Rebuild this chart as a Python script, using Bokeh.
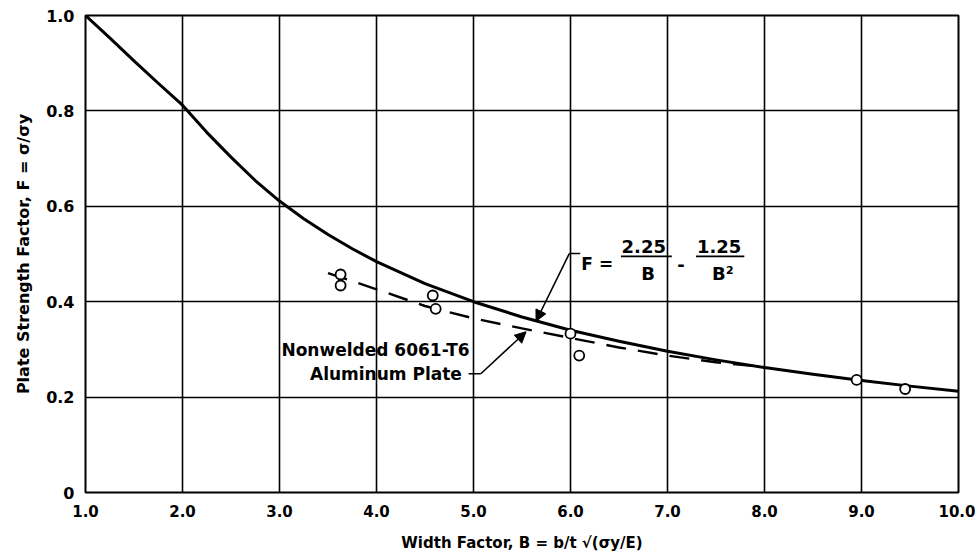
from bokeh.plotting import figure
from bokeh.models import (Range1d, FixedTicker, Label, Arrow, NormalHead,
                          PrintfTickFormatter)
from bokeh.embed import file_html
from bokeh.resources import INLINE

# ---------------- data ----------------
# solid curve  F = 2.25/B - 1.25/B^2
curve_B = [1.0, 1.25, 1.5, 1.75, 2.0, 2.25, 2.5, 2.75, 3.0, 3.25, 3.5, 3.75,
           4.0, 4.5, 5.0, 5.5, 6.0, 6.5, 7.0, 7.5, 8.0, 8.5, 9.0, 9.5, 10.0]
curve_F = [1.000, 0.953, 0.905, 0.858, 0.812, 0.755, 0.703, 0.654, 0.611,
           0.574, 0.541, 0.511, 0.484, 0.438, 0.400, 0.368, 0.340, 0.317,
           0.296, 0.278, 0.262, 0.248, 0.235, 0.223, 0.2125]

# dashed curve: nonwelded 6061-T6 aluminum plate
dash_B = [3.5, 4.0, 4.5, 5.0, 5.5, 6.0, 6.5, 7.0, 7.5, 7.9]
dash_F = [0.460, 0.426, 0.391, 0.365, 0.344, 0.324, 0.304, 0.287, 0.273, 0.265]

# test points (open circles)
pts_B = [3.63, 3.63, 4.58, 4.61, 6.00, 6.09, 8.95, 9.45]
pts_F = [0.457, 0.434, 0.413, 0.385, 0.333, 0.287, 0.236, 0.217]

x_ticks = [1, 2, 3, 4, 5, 6, 7, 8, 9, 10]
x_tick_labels = ["1.0", "2.0", "3.0", "4.0", "5.0", "6.0", "7.0", "8.0", "9.0", "10.0"]
y_ticks = [0, 0.2, 0.4, 0.6, 0.8, 1.0]
y_tick_labels = ["0", "0.2", "0.4", "0.6", "0.8", "1.0"]

x_title = "Width Factor, B = b/t √(σy/E)"
y_title = "Plate Strength Factor, F = σ/σy"

FONT = "DejaVu Sans"

p = figure(width=975, height=558, x_range=Range1d(1, 10), y_range=Range1d(0, 1),
           output_backend="svg", toolbar_location=None,
           min_border_left=85, min_border_right=17, min_border_top=15,
           min_border_bottom=66)
p.background_fill_color = "white"
p.border_fill_color = "white"
p.outline_line_color = "black"
p.outline_line_width = 2
p.outline_line_alpha = 1

# grid
p.xgrid.ticker = FixedTicker(ticks=x_ticks)
p.ygrid.ticker = FixedTicker(ticks=y_ticks)
for g in (p.xgrid, p.ygrid):
    g.grid_line_color = "black"
    g.grid_line_width = 1.6
    g.grid_line_alpha = 1

# axes
p.xaxis.ticker = FixedTicker(ticks=x_ticks)
p.yaxis.ticker = FixedTicker(ticks=y_ticks)
p.xaxis.major_label_overrides = dict(zip(x_ticks, x_tick_labels))
p.yaxis.major_label_overrides = dict(zip(y_ticks, y_tick_labels))
p.xaxis.formatter = PrintfTickFormatter(format="%.1f")
p.yaxis.formatter = PrintfTickFormatter(format="%.1f")
for ax in (p.xaxis, p.yaxis):
    ax.axis_line_color = None
    ax.major_tick_line_color = None
    ax.minor_tick_line_color = None
    ax.major_label_text_font = FONT
    ax.major_label_text_font_style = "bold"
    ax.major_label_text_color = "black"
    ax.axis_label_text_font = FONT
    ax.axis_label_text_font_style = "bold"
    ax.axis_label_text_color = "black"
p.xaxis.axis_label = x_title
p.yaxis.axis_label = y_title
p.xaxis.axis_label_text_font_size = "15px"
p.yaxis.axis_label_text_font_size = "16px"
p.xaxis.major_label_text_font_size = "15px"
p.yaxis.major_label_text_font_size = "16px"
p.xaxis.major_label_standoff = 6
p.yaxis.major_label_standoff = 5
p.xaxis.axis_label_standoff = 14
p.yaxis.axis_label_standoff = 10

# curves and points
p.line(curve_B, curve_F, line_color="black", line_width=3, line_join="round")
p.line(dash_B, dash_F, line_color="black", line_width=2.4, line_dash="20 12")
p.scatter(pts_B, pts_F, marker="circle", size=10, fill_color="white",
          line_color="black", line_width=1.8)


def lab(x, y, text, size, align="center", baseline="middle"):
    p.add_layout(Label(x=x, y=y, text=text, text_font=FONT, text_font_style="bold",
                       text_font_size=f"{size}px", text_align=align,
                       text_baseline=baseline, text_color="black"))


# ---- formula annotation  F = 2.25/B - 1.25/B^2
lab(6.112, 0.480, "F =", 17, align="left")
lab(6.755, 0.516, "2.25", 18)
p.line([6.52, 7.045], [0.495, 0.495], line_color="black", line_width=1.8)
lab(6.80, 0.460, "B", 18)
lab(7.14, 0.478, "-", 18)
lab(7.532, 0.516, "1.25", 18)
p.line([7.294, 7.792], [0.495, 0.495], line_color="black", line_width=1.8)
lab(7.57, 0.460, "B²", 18)
p.line([6.10, 5.988], [0.501, 0.501], line_color="black", line_width=1.6)
p.add_layout(Arrow(x_start=5.988, y_start=0.501, x_end=5.645, y_end=0.359,
                   line_color="black", line_width=1.6,
                   end=NormalHead(size=11, fill_color="black", line_color="black")))

# ---- material annotation
lab(4.96, 0.298, "Nonwelded 6061-T6", 17, align="right")
lab(4.88, 0.249, "Aluminum Plate", 17, align="right")
p.line([4.95, 5.075], [0.249, 0.249], line_color="black", line_width=1.6)
p.add_layout(Arrow(x_start=5.075, y_start=0.249, x_end=5.542, y_end=0.337,
                   line_color="black", line_width=1.6,
                   end=NormalHead(size=11, fill_color="black", line_color="black")))

open("out.html", "w").write(file_html(p, INLINE))
